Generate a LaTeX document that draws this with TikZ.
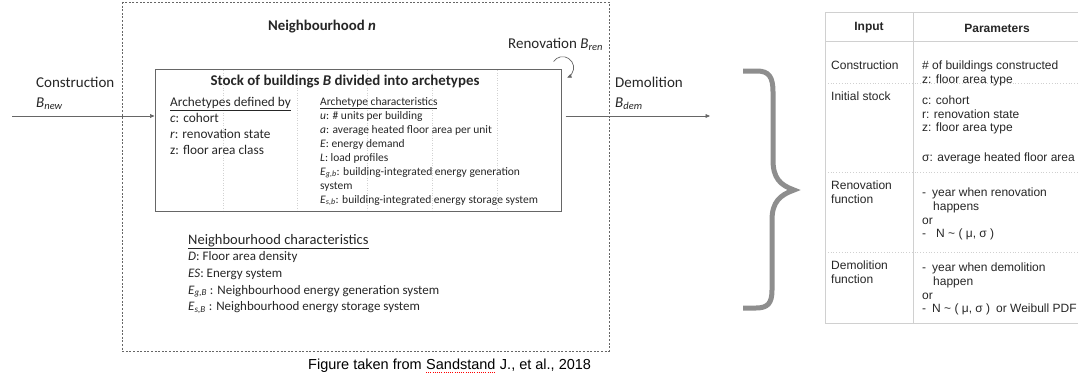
\documentclass[tikz,border=0pt]{standalone}
\usepackage{fontspec}
\setmainfont{Carlito}
\newfontfamily\tablefont{Liberation Sans}
\usetikzlibrary{arrows.meta,positioning}

\definecolor{framegray}{HTML}{666666}
\definecolor{textgray}{HTML}{262626}
\definecolor{gridgray}{HTML}{D2D2D2}
\definecolor{bracegray}{HTML}{8E8E8E}
\definecolor{rulegray}{HTML}{D0D0D0}

\tikzset{
  flow/.style={draw=framegray, line width=0.7pt, -{Triangle[length=4.5pt,width=3.8pt]}},
  cell/.style={anchor=north west, align=left, text=black!85, font=\tablefont\fontsize{12}{13.8}\selectfont},
  headcell/.style={text=black!85, font=\tablefont\bfseries\fontsize{12}{14}\selectfont},
  source/.style={text=black, font=\tablefont\fontsize{14.5}{17}\selectfont}
}

\begin{document}
\begin{tikzpicture}[x=1pt,y=-1pt]
    \tikzstyle{every node}+=[inner sep=0pt, text=textgray]
    \useasboundingbox (0,0) rectangle (1078,378);
    \draw [framegray, line width=0.8pt, dash pattern=on 2pt off 1.6pt] (122,2) rectangle (609,351);
    \node [font=\bfseries\fontsize{14.8}{17}\selectfont] (nbh) at (322,27) {Neighbourhood \textit{n}};
    \foreach \x in {223,297,367,432,497}
        \draw [gridgray, dotted, line width=0.5pt] (\x,70) -- (\x,210);
    \node [draw=framegray, line width=1pt, minimum width=406pt, minimum height=142pt] (stock) at (358,140) {};
    \node [font=\bfseries\fontsize{14.9}{17}\selectfont] (stocktitle) at (345,82) {Stock of buildings \textit{B} divided into archetypes};
    \node [anchor=north west, align=left, font=\fontsize{13.3}{16}\selectfont] (defs) at (170,97) {\underline{Archetypes defined by}\\\textit{c}: cohort\\\textit{r}: renovation state\\z: floor area class};
    \node [anchor=north west, align=left, font=\fontsize{11.5}{14}\selectfont] (chars) at (320,97) {\underline{Archetype characteristics}\\\textit{u}: \# units per building\\\textit{a}: average heated floor area per unit\\\textit{E}: energy demand\\\textit{L}: load profiles\\\textit{E}\textsubscript{\textit{g,b}}: building-integrated energy generation\\system\\\textit{E}\textsubscript{\textit{s,b}}: building-integrated energy storage system};
    \node [anchor=north west, align=left, font=\fontsize{13}{16.6}\selectfont] (nchars) at (188,234) {{\fontsize{14.5}{16}\selectfont\underline{Neighbourhood characteristics}}\\\textit{D}: Floor area density\\\textit{ES}: Energy system\\\textit{E}\textsubscript{\textit{g,B}} : Neighbourhood energy generation system\\\textit{E}\textsubscript{\textit{s,B}} : Neighbourhood energy storage system};
    \node [anchor=north west, align=left, font=\fontsize{15}{20}\selectfont] (constr) at (36,77) {Construction\\\textit{B}\textsubscript{\textit{new}}};
    \node [anchor=north west, align=left, font=\fontsize{15}{20}\selectfont] (demol) at (615,77) {Demolition\\\textit{B}\textsubscript{\textit{dem}}};
    \node [anchor=west, font=\fontsize{15}{18}\selectfont] (reno) at (508,44) {Renovation \textit{B}\textsubscript{\textit{ren}}};
    \coordinate (newin) at (12,116);
    \coordinate (demout) at (710,116);
    \draw [flow] (newin) -- (newin -| stock.west);
    \draw [flow] ([xshift=4pt]stock.east |- demout) -- (demout);
    \draw [flow] ([shift={(-8,-7)}]stock.north east) arc [start angle=214, end angle=426, radius=11];
    \draw [bracegray, line width=5pt] (743,71) -- (757,71) .. controls (769,71) and (773,77) .. (773,92) -- (773,160) .. controls (773,178) and (780,185) .. (794,190) .. controls (780,195) and (772,202) .. (772,220) -- (772,290) .. controls (772,303) and (768,308) .. (756,308) -- (743,308);
    \draw [rulegray, line width=0.8pt] (825,12) -- (1078,12);
    \draw [rulegray, line width=0.8pt] (825,41) -- (1078,41);
    \foreach \y in {83,172,252}
        \draw [rulegray, dotted, line width=0.8pt] (825,\y) -- (1078,\y);
    \draw [rulegray, line width=0.8pt] (825,323) -- (1078,323);
    \draw [rulegray, line width=0.8pt] (825,12) -- (825,323);
    \draw [rulegray, line width=0.8pt] (913,12) -- (913,323);
    \node [headcell] (hinput) at (869,28) {Input};
    \node [headcell] (hparam) at (997,28) {Parameters};
    \node [cell] (inconstr) at (831,60.5) {Construction};
    \node [cell] (parconstr) at (922,60.5) {\# of buildings constructed\\z: floor area type};
    \node [cell] (ininit) at (831,92) {Initial stock};
    \node [cell] (parinit) at (922,95.5) {c: cohort\\r: renovation state\\z: floor area type\\[16pt]σ: average heated floor area};
    \node [cell] (inreno) at (831,181) {Renovation\\function};
    \node [cell] (parreno) at (922,187.5) {-\hspace{6pt}year when renovation\\\hspace{11pt}happens\\or\\-\hspace{10pt}N \textasciitilde{} ( μ, σ )};
    \node [cell] (indemo) at (831,260.5) {Demolition\\function};
    \node [cell] (pardemo) at (922,262.5) {-\hspace{6pt}year when demolition\\\hspace{11pt}happen\\or\\-\hspace{6pt}N \textasciitilde{} ( μ, σ )\hspace{6pt}or Weibull PDF};
    \node [source, anchor=base west] (srcfrom) at (308,369) {Figure taken from};
    \node [source, base right=4pt of srcfrom] (srcname) {Sandstand};
    \node [source, base right=4pt of srcname] (srcyear) {J., et al., 2018};
    \draw [red, line width=1pt, dash pattern=on 1pt off 1.2pt] ([yshift=-3pt]srcname.base west) -- ([yshift=-3pt]srcname.base east);
\end{tikzpicture}
\end{document}
